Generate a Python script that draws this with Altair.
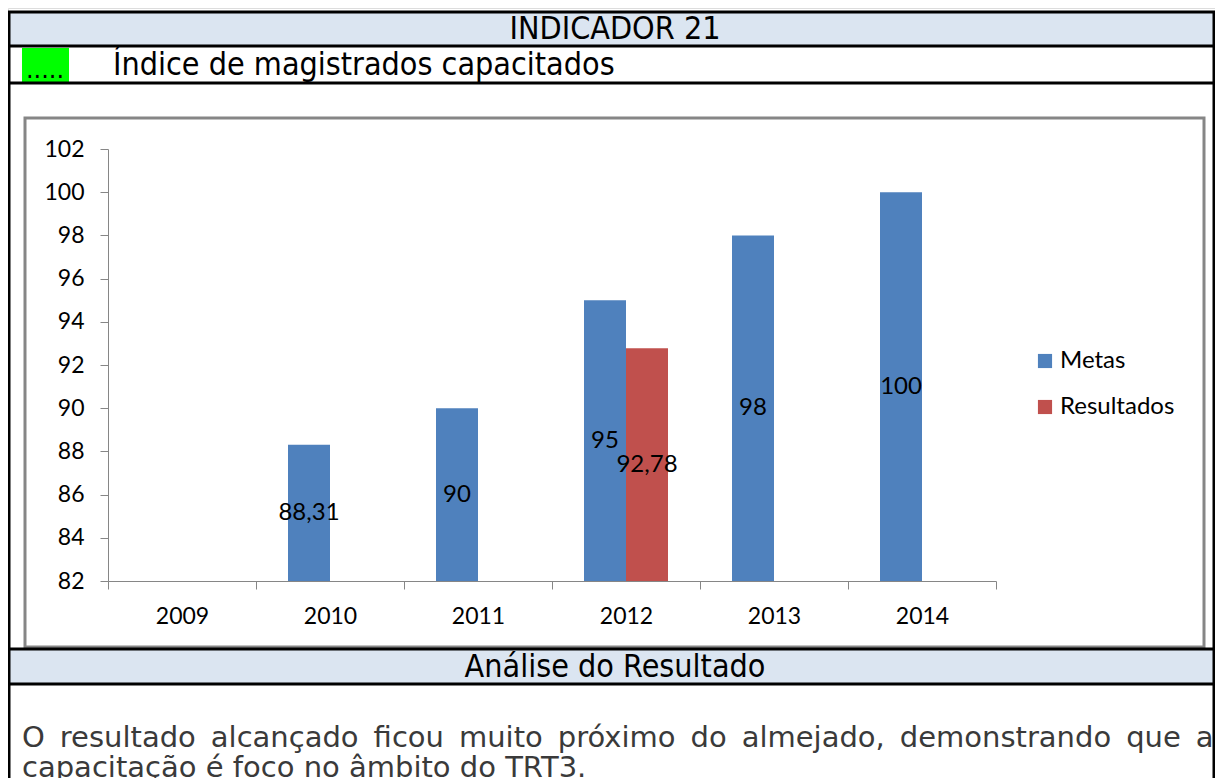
import altair as alt
import pandas as pd

# ---------------- data ----------------
anos = ["2009", "2010", "2011", "2012", "2013", "2014"]
metas = [None, 88.31, 90, 95, 98, 100]
resultados = [None, None, None, 92.78, None, None]
series = ["Metas", "Resultados"]
cores = ["#4f81bd", "#c0504d"]
y_min, y_max = 82, 102
y_ticks = [82, 84, 86, 88, 90, 92, 94, 96, 98, 100, 102]

titulo = "INDICADOR 21"
marcador = "....."
subtitulo = "Índice de magistrados capacitados"
secao = "Análise do Resultado"
texto1 = "O resultado alcançado ficou muito próximo do almejado, demonstrando que a"
texto2 = "capacitação é foco no âmbito do TRT3."

rows = []
for a, m, r in zip(anos, metas, resultados):
    if m is not None:
        rows.append({"ano": a, "serie": "Metas", "valor": m})
    if r is not None:
        rows.append({"ano": a, "serie": "Resultados", "valor": r})
df = pd.DataFrame(rows)

# ---------------- layout ----------------
W, H = 1207, 770
OFF = 8


def p(v):
    return v - OFF


one = pd.DataFrame({"k": [0]})
COND = "DejaVu Sans Condensed, Liberation Sans Narrow, DejaVu Sans"
CHARTFONT = "Lato"
BAND = "#dbe5f1"
GRAY = "#868686"
RIGHT = 1215


def rect(x1, x2, y1, y2, **kw):
    return alt.Chart(one).mark_rect(**kw).encode(
        x=alt.value(p(x1)), x2=alt.value(p(x2)), y=alt.value(p(y1)), y2=alt.value(p(y2))
    )


def rule(x1, x2, y1, y2, **kw):
    return alt.Chart(one).mark_rule(**kw).encode(
        x=alt.value(p(x1)), x2=alt.value(p(x2)), y=alt.value(p(y1)), y2=alt.value(p(y2))
    )


def txt(s, x, y, **kw):
    return alt.Chart(one).mark_text(text=s, **kw).encode(x=alt.value(p(x)), y=alt.value(p(y)))


decor = [
    rect(7, RIGHT, 12, 46, fill=BAND),
    rect(7, RIGHT, 649, 684, fill=BAND),
    rect(22, 69, 48, 82, fill="#00ff00"),
    rect(25, 1204, 118, 647, fill="white", stroke=GRAY, strokeWidth=3),
    rule(7, RIGHT, 12, 12, color="black", strokeWidth=3),
    rule(7, RIGHT, 46, 46, color="black", strokeWidth=3),
    rule(7, RIGHT, 83, 83, color="black", strokeWidth=3),
    rule(7, RIGHT, 649, 649, color="black", strokeWidth=3),
    rule(7, RIGHT, 684, 684, color="black", strokeWidth=3),
    rule(9, 9, 12, 800, color="black", strokeWidth=3),
    rule(RIGHT - 1, RIGHT - 1, 12, 800, color="black", strokeWidth=3),
    txt(titulo, 615, 29, align="center", baseline="middle", font=COND, fontSize=32, color="black"),
    txt(marcador, 45, 78, align="center", baseline="alphabetic", font="DejaVu Sans", fontSize=24,
        color="black"),
    txt(subtitulo, 113, 65, align="left", baseline="middle", font=COND, fontSize=32, color="black"),
    txt(secao, 615, 667, align="center", baseline="middle", font=COND, fontSize=32, color="black"),
    txt(texto1.replace(" ", " \u2009"), 22, 747, align="left", baseline="alphabetic",
        font="DejaVu Sans", fontSize=29, color="#3a3a3a"),
    txt(texto2, 22, 777, align="left", baseline="alphabetic", font="DejaVu Sans", fontSize=29,
        color="#3a3a3a"),
]

x_enc = alt.X(
    "ano:N",
    scale=alt.Scale(domain=anos, range=[p(108), p(996)], paddingInner=0, paddingOuter=0),
    axis=alt.Axis(
        title=None, offset=p(581) - H, tickBand="extent", domainColor=GRAY, tickColor=GRAY,
        tickSize=8, labelFont=CHARTFONT, labelFontSize=23, labelColor="black", labelPadding=16,
        labelAngle=0, domainWidth=1, tickWidth=1, zindex=1,
    ),
)
xo = alt.XOffset("serie:N", scale=alt.Scale(domain=series, range=[32, 116]))
y_scale = alt.Scale(domain=[y_min, y_max], range=[p(581), p(149)], zero=False, nice=False)
y_axis = alt.Axis(
    title=None, values=y_ticks, offset=-p(108), grid=False, domainColor=GRAY,
    tickColor=GRAY, tickSize=8, labelFont=CHARTFONT, labelFontSize=23,
    labelColor="black", labelPadding=16, domainWidth=1, tickWidth=1, zindex=1,
)

base = alt.Chart(df).encode(x=x_enc, xOffset=xo)

bars = base.mark_bar().encode(
    y=alt.Y("valor:Q", scale=y_scale, axis=y_axis),
    y2=alt.datum(y_min),
    color=alt.Color(
        "serie:N",
        scale=alt.Scale(domain=series, range=cores),
        legend=alt.Legend(
            orient="none", legendX=p(1033), legendY=p(349), title=None, symbolType="square",
            symbolSize=200, symbolStrokeWidth=0, labelFont=CHARTFONT, labelFontSize=24,
            labelColor="black", rowPadding=22, labelOffset=3, padding=0, zindex=1,
        ),
    ),
)

labels = base.transform_calculate(
    mid=f"(datum.valor + {y_min}) / 2",
    rot="replace(toString(datum.valor), '.', ',')",
).mark_text(font=CHARTFONT, fontSize=24, color="black").encode(
    y=alt.Y("mid:Q", scale=y_scale, axis=y_axis),
    text="rot:N",
)

chart = (
    alt.layer(*decor, bars, labels)
    .properties(width=W, height=H, autosize=alt.AutoSizeParams(type="none"), padding=0)
    .configure_view(stroke=None)
    .configure(background="white")
)

chart.save("out.html", embed_options={"renderer": "svg", "actions": False})
